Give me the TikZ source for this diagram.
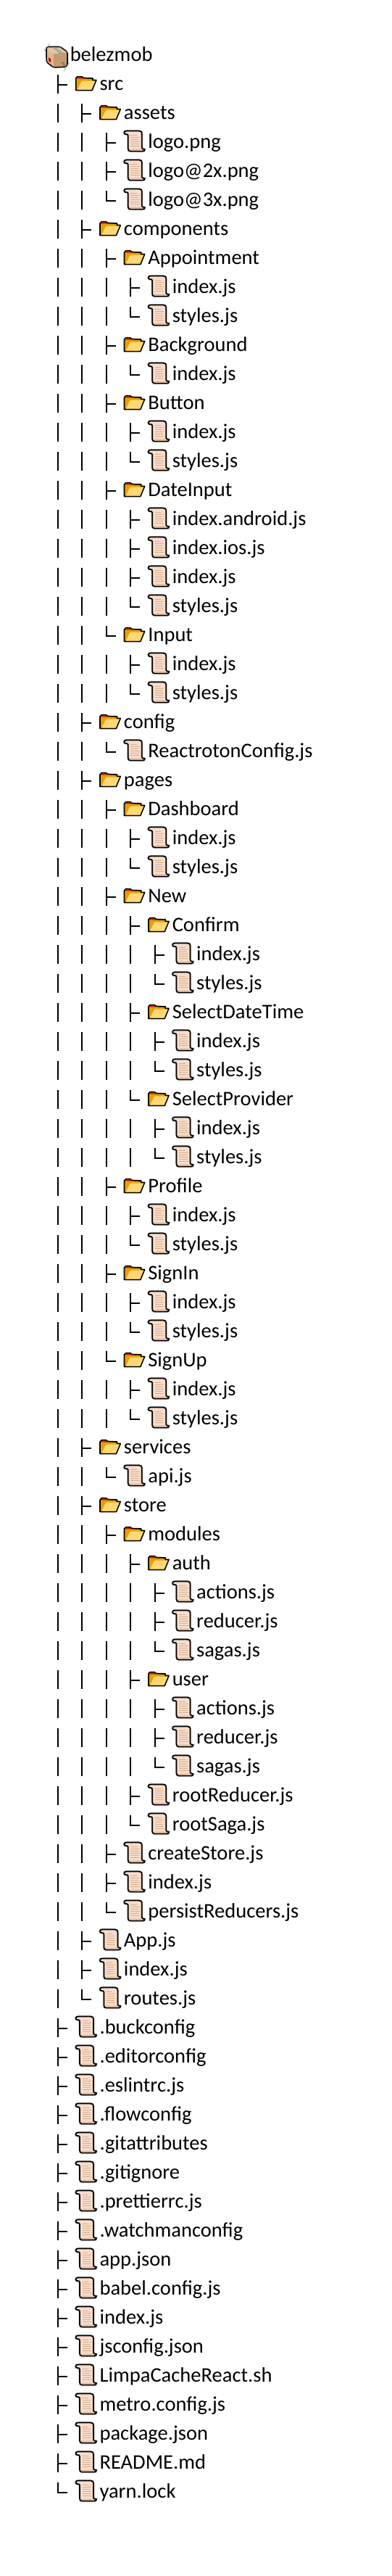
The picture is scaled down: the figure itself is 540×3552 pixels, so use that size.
\documentclass[tikz,border=0pt]{standalone}
\usepackage{fontspec}
\usepackage{tikz}
\setmainfont{Carlito}
\definecolor{PaperFill}{RGB}{248,220,202}
\definecolor{PaperFold}{RGB}{226,184,156}
\definecolor{PaperLine}{RGB}{214,176,146}
\definecolor{FolderBack}{RGB}{232,160,0}
\definecolor{FolderFront}{RGB}{255,216,118}
\definecolor{FolderTab}{RGB}{205,30,30}
\definecolor{BoxTop}{RGB}{226,196,160}
\definecolor{BoxLeft}{RGB}{220,186,146}
\definecolor{BoxRight}{RGB}{196,154,110}
\tikzset{
    treeline/.style={line width=1.5pt,black},
    itemtext/.style={anchor=base west,inner sep=0,font=\fontsize{21.4pt}{21.4pt}\selectfont},
    outline/.style={line width=1.3pt,black,line join=round},
    pics/foldericon/.style={code={
        \draw [outline,fill=FolderBack] (0.7,19.5) -- (0.7,3) -- (3,0.7) -- (9,0.7) -- (11,2.5) -- (24,3) -- (24,5.5) -- (28.8,5.5) -- (23,19.5) -- cycle;
        \fill [FolderTab] (2.5,1.5) -- (9,1.5) -- (10.5,3.5) -- (2.5,3.5) -- cycle;
        \fill [FolderFront] (3,18.7) -- (22.3,18.7) -- (27.5,6.5) -- (10,6.5) -- (8,8) -- cycle;
    }},
    pics/scrollicon/.style={code={
        \draw [outline,fill=PaperFill,preaction={draw=black!25,line width=2.2pt}] (0.5,3) .. controls (0.5,1) and (2,0.5) .. (4,0.5) -- (21,0.5) .. controls (24,0.5) and (25,2) .. (25,4) -- (25,24) .. controls (25,25.5) and (27,26) .. (29,26) .. controls (29,28) and (28,28.5) .. (26,28.5) -- (9,28.5) .. controls (7,28.5) and (6,27) .. (6,25) -- (6,7) .. controls (6,5.5) and (5,5) .. (3,5) .. controls (1.5,5) and (0.5,4.5) .. (0.5,3) -- cycle;
        \fill [PaperFold] (8,25.5) -- (24,25.5) -- (25,27.6) -- (9,27.6) -- cycle;
        \foreach \liney/\lineend in {6/18,9/22,12/20,15/22,18/21,21/22} {
            \draw [PaperLine,line width=0.7pt] (9.5,\liney) -- (\lineend,\liney);
        }
    }},
    pics/boxicon/.style={code={
        \draw [outline,rounded corners=1.5pt,preaction={draw=black!25,line width=2.2pt}] (1,3) -- (3,0.7) -- (20,0.7) -- (30,8) -- (30,25) -- (28,28) -- (11,28.8) -- (1.5,21.5) -- cycle;
        \fill [BoxLeft] (1.8,3.5) -- (11,10) -- (11,28) -- (2.3,21) -- cycle;
        \fill [BoxTop] (3,1.4) -- (19.8,1.4) -- (29.2,8) -- (11,10) -- (1.8,3.5) -- cycle;
        \fill [BoxRight] (11,10) -- (29.2,8) -- (29.2,25) -- (27.6,27.3) -- (11,28) -- cycle;
        \fill [black!35] (9,1.4) -- (14,1.4) -- (24,8.6) -- (19,9.2) -- cycle;
        \fill [red!80!black] (4,15) -- (7,17) -- (7,22) -- (4,20) -- cycle;
        \draw [black!70,line width=0.7pt] (22,23) -- (26,22.7) (24,25.4) -- (27,25.2);
    }}
}
\begin{document}
\begin{tikzpicture}[x=0.75pt,y=-0.75pt]
    \useasboundingbox (0,0) rectangle (540,3552);
    \pic (ICON-0) at (63,64) {boxicon};
    \node (LBL-0) [itemtext] at (96.5,84) {belezmob};
    \foreach \lvl/\tip/\kind/\txt [count=\n from 1] in {
        1/t/d/src,
        2/t/d/assets,
        3/t/f/logo.png, 3/t/f/logo@2x.png, 3/l/f/logo@3x.png,
        2/t/d/components,
        3/t/d/Appointment, 4/t/f/index.js, 4/l/f/styles.js,
        3/t/d/Background, 4/l/f/index.js,
        3/t/d/Button, 4/t/f/index.js, 4/l/f/styles.js,
        3/t/d/DateInput, 4/t/f/index.android.js, 4/t/f/index.ios.js, 4/t/f/index.js, 4/l/f/styles.js,
        3/l/d/Input, 4/t/f/index.js, 4/l/f/styles.js,
        2/t/d/config, 3/l/f/ReactrotonConfig.js,
        2/t/d/pages,
        3/t/d/Dashboard, 4/t/f/index.js, 4/l/f/styles.js,
        3/t/d/New,
        4/t/d/Confirm, 5/t/f/index.js, 5/l/f/styles.js,
        4/t/d/SelectDateTime, 5/t/f/index.js, 5/l/f/styles.js,
        4/l/d/SelectProvider, 5/t/f/index.js, 5/l/f/styles.js,
        3/t/d/Profile, 4/t/f/index.js, 4/l/f/styles.js,
        3/t/d/SignIn, 4/t/f/index.js, 4/l/f/styles.js,
        3/l/d/SignUp, 4/t/f/index.js, 4/l/f/styles.js,
        2/t/d/services, 3/l/f/api.js,
        2/t/d/store,
        3/t/d/modules,
        4/t/d/auth, 5/t/f/actions.js, 5/t/f/reducer.js, 5/l/f/sagas.js,
        4/t/d/user, 5/t/f/actions.js, 5/t/f/reducer.js, 5/l/f/sagas.js,
        4/t/f/rootReducer.js, 4/l/f/rootSaga.js,
        3/t/f/createStore.js, 3/t/f/index.js, 3/l/f/persistReducers.js,
        2/t/f/App.js, 2/t/f/index.js, 2/l/f/routes.js,
        1/t/f/.buckconfig, 1/t/f/.editorconfig, 1/t/f/.eslintrc.js, 1/t/f/.flowconfig,
        1/t/f/.gitattributes, 1/t/f/.gitignore, 1/t/f/.prettierrc.js, 1/t/f/.watchmanconfig,
        1/t/f/app.json, 1/t/f/babel.config.js, 1/t/f/index.js, 1/t/f/jsconfig.json,
        1/t/f/LimpaCacheReact.sh, 1/t/f/metro.config.js, 1/t/f/package.json, 1/t/f/README.md,
        1/l/f/yarn.lock} {
        \pgfmathsetmacro{\colx}{46.6+33.4*\lvl}
        \pgfmathsetmacro{\rowy}{76.5+40*\n}
        \coordinate (TIP-\n) at (\colx,\rowy);
        \draw [treeline] (TIP-\n) ++(0,-13.5) -- (TIP-\n) -- ++(13,0);
        \if t\tip
            \draw [treeline] (TIP-\n) -- ++(0,12.5);
        \fi
        \ifnum\lvl>1
            \foreach \k in {2,...,\lvl} {
                \draw [treeline] (TIP-\n) ++({-33.4*(\k-1)},-13.5) -- ++(0,26);
            }
        \fi
        \if d\kind
            \pic (ICON-\n) at (\colx+24,\rowy-11.5) {foldericon};
        \else
            \pic (ICON-\n) at (\colx+24,\rowy-16.5) {scrollicon};
        \fi
        \node (LBL-\n) [itemtext] at (\colx+57.3,\rowy+7.5) {\txt};
    }
\end{tikzpicture}
\end{document}
